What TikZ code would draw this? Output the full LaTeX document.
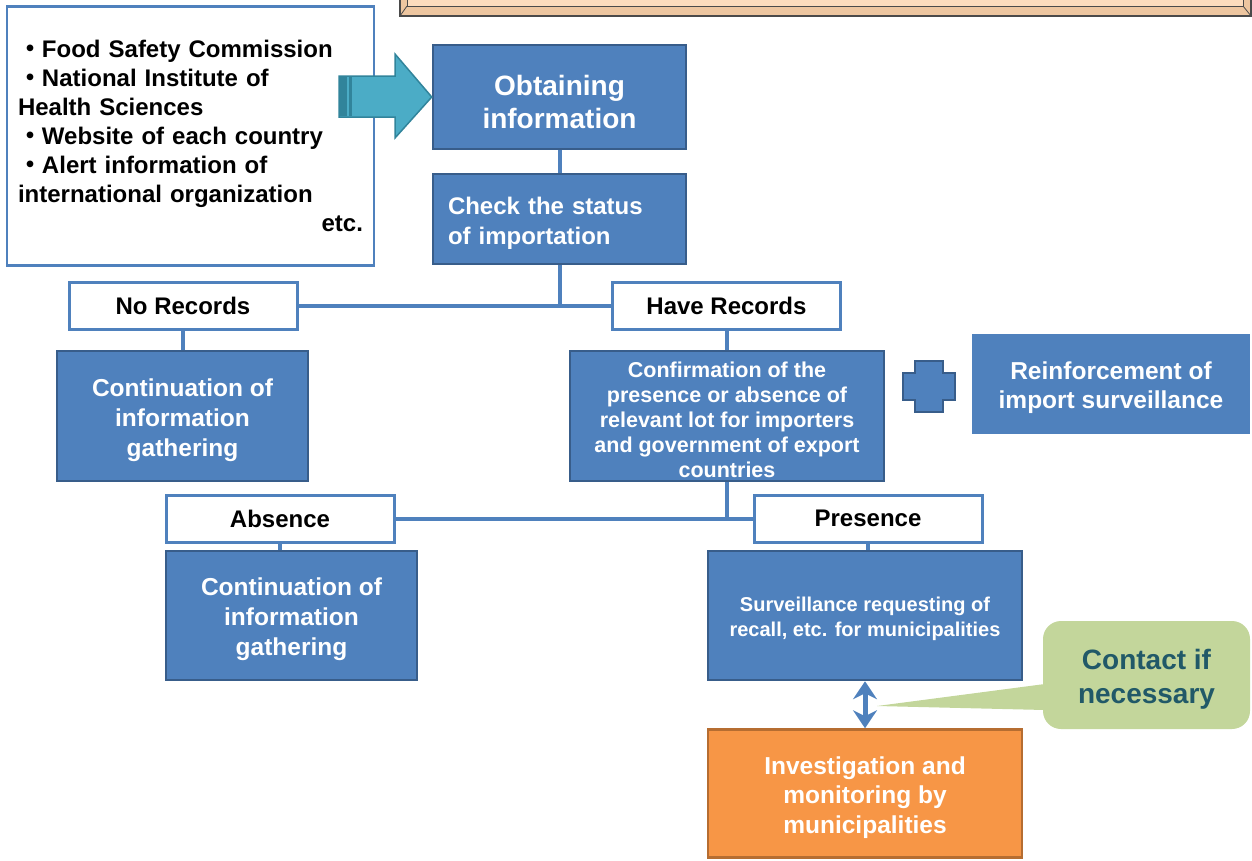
\documentclass[tikz,border=0pt]{standalone}
\usepackage{fontspec}
\setmainfont{Liberation Sans}
\newfontfamily\cjk{Noto Sans CJK JP}
\usetikzlibrary{arrows.meta,calc,backgrounds}
\definecolor{mblue}{HTML}{4F81BD}
\definecolor{mdark}{HTML}{385D8A}
\definecolor{morange}{HTML}{F79646}
\definecolor{morangedark}{HTML}{B66D31}
\definecolor{mteal}{HTML}{4BACC6}
\definecolor{mtealdark}{HTML}{31849B}
\definecolor{mgreen}{HTML}{C3D69B}
\definecolor{mgreentext}{HTML}{215968}
\definecolor{peach}{HTML}{FCDCBD}
\definecolor{peachdark}{HTML}{EDC6A0}
\definecolor{bevelline}{HTML}{4A4A4A}
\newcommand{\fs}[2]{\fontsize{#1}{#2}\selectfont}
\newcommand{\dn}{\rule{0pt}{1.05em}}
\begin{document}
\begin{tikzpicture}[x=1pt,y=-1pt,
  bluebox/.style={fill=mblue, draw=mdark, line width=2.5pt, text=white, align=center, inner sep=0pt},
  whitebox/.style={fill=white, draw=mblue, line width=3pt, text=black, font=\bfseries\fs{24}{29}, align=center, inner sep=0pt, minimum width=228pt, minimum height=47pt},
  conn/.style={draw=mblue, line width=4pt},
]
\useasboundingbox (0,0) rectangle (1252,860);

% banner (cropped at top)
\fill[peachdark] (400,-5) rectangle (1251,16);
\fill[peach] (407,-5) rectangle (1243,6);
\draw[bevelline, line width=1.3pt] (400,-5) -- (400,16) -- (1251,16) -- (1251,-5);
\draw[bevelline, line width=0.8pt] (407,-5) -- (407,6) -- (1243,6) -- (1243,-5);
\draw[bevelline, line width=0.8pt] (400,16) -- (407,6) (1251,16) -- (1243,6);

% source box
\node[draw=mblue, line width=2.5pt, fill=white, minimum width=367pt, minimum height=259pt,
      text width=345pt, align=left, inner sep=0pt, font=\bfseries\fs{24}{29}] (src) at (190.5,136)
  {{\cjk ・}Food Safety Commission\\
   {\cjk ・}National Institute of\\
   Health Sciences\\
   {\cjk ・}Website of each country\\
   {\cjk ・}Alert information of\\
   international organization\\
   \hfill etc.};

% main flow nodes
\node[bluebox, minimum width=253pt, minimum height=104pt, font=\bfseries\fs{28}{33}] (obt) at (559.5,97)
  {\dn Obtaining\\information};
\node[bluebox, minimum width=253pt, minimum height=90pt, text width=223pt, align=left, font=\bfseries\fs{24}{30}] (chk) at (559.5,219)
  {\dn Check the status\\of importation};

\node[whitebox] (nor) at (183,305.5) {No Records};
\node[whitebox] (have) at (726.5,305.5) {Have Records};

\node[bluebox, minimum width=251pt, minimum height=130pt, font=\bfseries\fs{24.5}{30}] (c1) at (182.5,416)
  {\dn Continuation of\\information\\gathering};
\node[bluebox, minimum width=314pt, minimum height=130pt, font=\bfseries\fs{21.5}{25}] (conf) at (727,416)
  {\dn Confirmation of the\\presence or absence of\\relevant lot for importers\\and government of export\\countries};

% plus sign
\filldraw[fill=mblue, draw=mdark, line width=2pt]
  (915,361) -- (943,361) -- (943,373) -- (955,373) -- (955,400) -- (943,400) -- (943,412)
  -- (915,412) -- (915,400) -- (903,400) -- (903,373) -- (915,373) -- cycle;

\node[fill=mblue, text=white, align=center, inner sep=0pt, minimum width=278pt, minimum height=100pt,
      font=\bfseries\fs{24.5}{29}] (reinf) at (1111,384)
  {\dn Reinforcement of\\import surveillance};

\node[whitebox] (abs) at (280,518.5) {Absence};
\node[whitebox] (pres) at (868,518.5) {Presence};

\node[bluebox, minimum width=251pt, minimum height=129pt, font=\bfseries\fs{24.5}{30}] (c2) at (291.5,615.5)
  {\dn Continuation of\\information\\gathering};
\node[bluebox, minimum width=314pt, minimum height=129pt, font=\bfseries\fs{20}{25}] (surv) at (865,615.5)
  {\dn Surveillance requesting of\\recall, etc. for municipalities};

\node[fill=morange, draw=morangedark, line width=2.5pt, text=white, align=center, inner sep=0pt,
      minimum width=314pt, minimum height=128pt, font=\bfseries\fs{24.5}{29.5}] (inv) at (865,793.5)
  {\dn Investigation and\\monitoring by\\municipalities};

% callout
\node[fill=mgreen, rounded corners=18pt, text=mgreentext, align=center, inner sep=0pt,
      minimum width=207pt, minimum height=108pt, font=\bfseries\fs{28}{34}] (call) at (1146.5,675)
  {\dn Contact if\\necessary};
\coordinate (tip) at (877,706);
\fill[mgreen] ($(call.west)+(2,9)$) -- (tip) -- ($(call.west)+(2,35)$) -- cycle;

% big input arrow
\filldraw[fill=mteal, draw=mtealdark, line width=1.5pt]
  (339,76) -- (395,76) -- (395,54) -- (obt.west) -- (395,138) -- (395,117) -- (339,117) -- cycle;
\fill[mtealdark] (339,77) rectangle (347,116);
\fill[mtealdark] (349,77) rectangle (352,116);

% double arrow
\draw[mblue, line width=5pt, {Stealth[length=18pt,width=24pt,inset=6pt]}-{Stealth[length=18pt,width=24pt,inset=6pt]}]
  (surv.south) -- (inv.north);

% connectors
\begin{scope}[on background layer]
  \draw[conn] (obt.south) -- (chk.north);
  \draw[conn] (chk.south) -- (chk.south |- nor.east);
  \draw[conn] (nor.east) -- (have.west);
  \draw[conn] (nor.south) -- (nor.south |- c1.north);
  \draw[conn] (have.south) -- (have.south |- conf.north);
  \draw[conn] (conf.south) -- (conf.south |- abs.east);
  \draw[conn] (abs.east) -- (pres.west);
  \draw[conn] (abs.south) -- (abs.south |- c2.north);
  \draw[conn] (pres.south) -- (pres.south |- surv.north);
\end{scope}
\end{tikzpicture}
\end{document}
